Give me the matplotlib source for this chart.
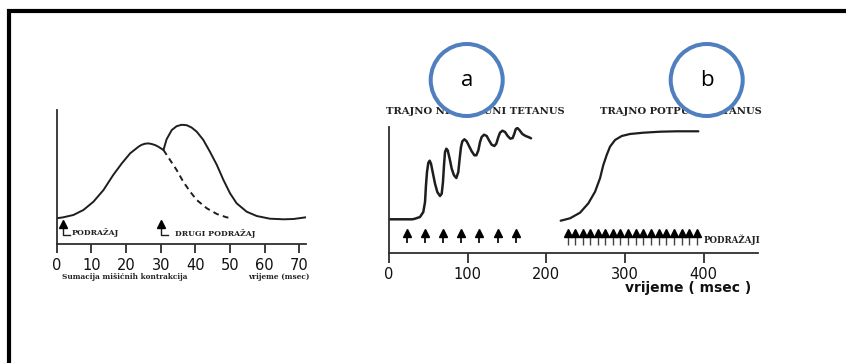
"""
Sumacija i tetanus
Recreates the muscle twitch summation / tetanus figure with matplotlib
"""
import matplotlib
matplotlib.use("Agg")
import matplotlib.pyplot as plt
from matplotlib.patches import Circle

# ---- data ----
# left panel: summation of two twitches (x = msec, y = height above axis)
sum_ticks = [0, 10, 20, 30, 40, 50, 60, 70]
twitch1_t = [0, 1.9, 4.8, 7.7, 10.6, 13.5, 16.3, 18.8, 21.2, 23.6, 24.5, 25.5, 26.5,
             27.4, 28.4, 29.3, 30.8]
twitch1_y = [25.7, 26.7, 29, 34, 42.3, 54, 69, 80.7, 90.7, 97.3, 99.2, 100.3, 100.6,
             100, 98.9, 97.3, 94]
twitch2_t = [30.8, 31.7, 33.2, 34.6, 36.0, 37.5, 38.9, 40.4, 42.3, 44.2, 46.2, 48.1, 50,
             51.9, 54.8, 57.7, 61.5, 65.4, 68.3, 71.9]
twitch2_y = [94, 104.7, 114, 117.8, 119.2, 118.8, 116.5, 112.3, 104, 92.3, 79, 64, 50.7,
             40.7, 32.3, 28, 25.3, 24.7, 25, 26.7]
decay_t = [30.8, 32.7, 34.6, 36.5, 38.5, 40.4, 43.3, 46.2, 49, 50.5]
decay_y = [94, 84, 74, 62.3, 52.3, 44, 35.7, 30, 26.7, 25.7]
stim_single = 1.9
stim_second = 30.1

# right panel: incomplete (a) and complete (b) tetanus
tet_ticks = [0, 100, 200, 300, 400]
incomplete_t = [0, 30, 33.0, 39.4, 43.6, 45.8, 47.0, 48.3, 50.0, 51.7, 53.4, 55.5, 58.5,
                61.4, 64.8, 67.0, 68.6, 69.9, 71.2, 72.9, 74.6, 77.1, 79.7, 82.6, 85.6,
                88.1, 89.8, 91.5, 93.2, 95.8, 98.7, 101.7, 105.1, 108.5, 111.0, 113.6,
                115.7, 117.8, 120.8, 124.2, 127.1, 130.5, 133.9, 136.4, 139.0, 141.1,
                144.1, 147.5, 150.8, 154.2, 157.2, 159.3, 161.0, 163.1, 165.7, 169.5,
                173.7, 178.0, 180.5]
incomplete_y = [33.4, 33.4, 34.0, 35.7, 40.7, 50.7, 67.4, 80.7, 90, 92, 89, 80.7, 69,
                60.7, 56.7, 59, 70.7, 87.4, 100.7, 104, 102.4, 94, 84, 77.4, 74.7,
                80.7, 94, 105.7, 111.4, 113.4, 111.4, 106.7, 101.4, 97.4, 97.4, 102.4,
                110.7, 115.7, 118, 116.7, 112.4, 108, 106.7, 109, 115.7, 120,
                122, 120.7, 116.7, 114, 114.7, 119, 123.4, 124.7, 122.7, 118.7,
                116.7, 115.4, 114.4]
complete_t = [218.2, 230.1, 242.8, 253.4, 261.9, 268.2, 272.4, 276.7, 280.9, 287.3,
              295.8, 306.3, 323.3, 344.5, 365.7, 393.2]
complete_y = [32, 34.4, 40, 49.4, 61, 74.4, 87.7, 97.7, 106, 112.7, 116.7, 118.7, 120,
              121, 121.4, 121.4]
stims_a = [23, 46, 69, 92, 115, 138, 161]
stims_b = [227, 237, 246, 256, 266, 275, 285, 294, 304, 314, 323, 333, 343, 352, 362,
           372, 381, 391]

W, H = 846, 363
LINE = "#1e1e1e"
AXIS = "#2e2e2e"
BLUE = "#4f7fbf"
SERIF = ["DejaVu Serif"]


def px_axes(fig, x0, x1, y_axis, y_top):
    """Add axes whose box is given in picture pixels (y measured from top)."""
    return fig.add_axes([x0 / W, (H - y_axis) / H, (x1 - x0) / W, (y_axis - y_top) / H])


def style_axis(ax, ticks, tick_len, pad, size):
    for side in ("top", "right"):
        ax.spines[side].set_visible(False)
    for side in ("left", "bottom"):
        ax.spines[side].set_linewidth(1.3)
        ax.spines[side].set_color(AXIS)
    ax.set_yticks([])
    ax.set_xticks(ticks)
    ax.tick_params(axis="x", direction="out", length=tick_len, width=1.3, color=AXIS,
                   pad=pad, labelsize=size, labelcolor="#111111")
    ax.patch.set_alpha(0)


fig = plt.figure(figsize=(W / 100, H / 100), dpi=100)
fig.patch.set_facecolor("white")
curve = dict(color=LINE, solid_joinstyle="round", solid_capstyle="round")

# ---- left panel ----
axl = px_axes(fig, 56.7, 306.3, 244, 110)
axl.set_xlim(0, 72)
axl.set_ylim(0, 134)
style_axis(axl, sum_ticks, 6.5, 3.4, 10.5)
axl.plot(twitch1_t, twitch1_y, lw=1.4, **curve)
axl.plot(twitch2_t, twitch2_y, lw=1.4, **curve)
axl.plot(decay_t, decay_y, color=LINE, lw=1.4, ls=(0, (3, 2.2)))
for t in (stim_single, stim_second):
    axl.plot([t, t, t + 1.9], [17, 9, 9], color=LINE, lw=1.0, clip_on=False)
    axl.plot([t], [20.5], marker="^", ms=5.5, color="black", clip_on=False)
axl.text(stim_single + 2.4, 11.3, "PODRAŽAJ", family=SERIF, weight="bold",
         fontsize=5.6, va="center", color="#222222")
axl.text(stim_second + 4.0, 10.5, "DRUGI PODRAŽAJ", family=SERIF, weight="bold",
         fontsize=5.6, va="center", color="#222222")

# ---- right panel ----
axr = px_axes(fig, 389, 758, 252.7, 126.7)
axr.set_xlim(0, 469)
axr.set_ylim(0, 126)
style_axis(axr, tet_ticks, 7.4, 2.8, 10.5)
axr.plot(incomplete_t, incomplete_y, lw=1.8, **curve)
axr.plot(complete_t, complete_y, lw=1.6, **curve)
axr.vlines(stims_a, 9.4, 17, color=LINE, lw=1.4)
axr.plot(stims_a, [19.4] * len(stims_a), ls="none", marker="^", ms=6, color="black")
axr.vlines(stims_b, 7.4, 18, color="#444444", lw=1.0)
axr.plot(stims_b, [20.0] * len(stims_b), ls="none", marker="^", ms=5.6, color="black")

# ---- frame, captions and circled labels (pixel overlay) ----
ov = fig.add_axes([0, 0, 1, 1])
ov.set_xlim(0, W)
ov.set_ylim(H, 0)
ov.axis("off")
ov.patch.set_alpha(0)
ov.plot([7, W], [11, 11], color="black", lw=3.0, solid_capstyle="butt")
ov.plot([9, 9], [9, H], color="black", lw=3.0, solid_capstyle="butt")

cap = dict(family=SERIF, weight="bold", color="#222222", va="center")
ov.text(61.7, 277.3, "Sumacija mišićnih kontrakcija", fontsize=5.3, **cap)
ov.text(248.3, 277.3, "vrijeme (msec)", fontsize=5.3, **cap)
ov.text(386, 111.7, "TRAJNO NEPOTPUNI TETANUS", fontsize=7.2, **cap)
ov.text(600, 111.7, "TRAJNO POTPUNI TETANUS", fontsize=7.2, **cap)
ov.text(703.3, 239.3, "PODRAŽAJI", fontsize=6.2, **cap)
ov.text(625, 287.7, "vrijeme ( msec )", fontsize=10, weight="bold", color="#111111",
        va="center")

for cx, letter in ((466.7, "a"), (706.7, "b")):
    ov.add_patch(Circle((cx, 80), 36, facecolor="white", edgecolor=BLUE, lw=2.9, zorder=5))
    ov.text(cx, 80, letter, fontsize=16, family=["Open Sans", "DejaVu Sans"],
            ha="center", va="center", color="black", zorder=6)

fig.savefig("out.png", dpi=100)
